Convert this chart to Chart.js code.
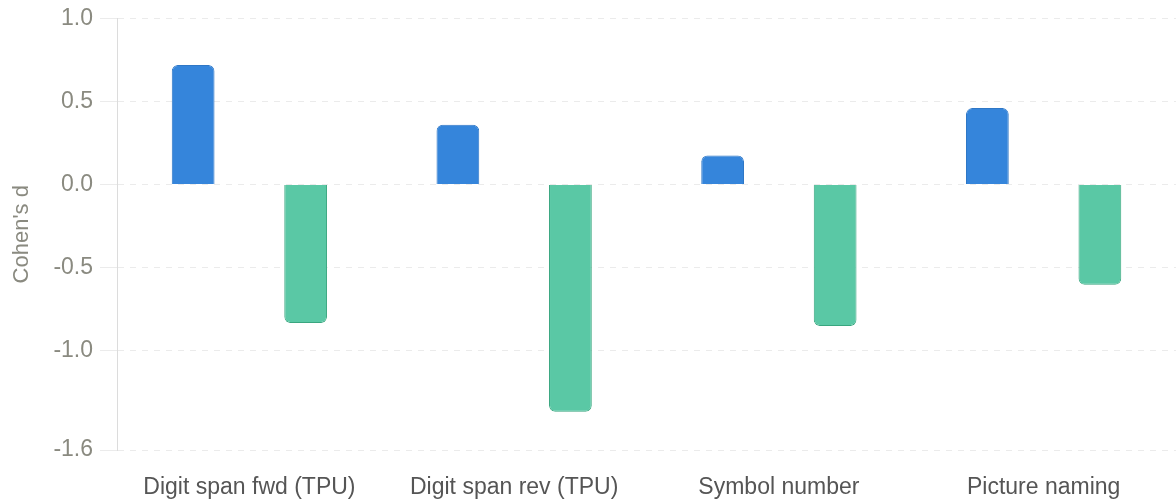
<!DOCTYPE html>
<html>
<head>
<meta charset="utf-8">
<script src="https://cdn.jsdelivr.net/npm/chart.js@4"></script>
<style>
  html, body { margin: 0; padding: 0; background: #fff; }
  #wrap { width: 1176px; height: 504px; }
</style>
</head>
<body>
<div id="wrap"><canvas id="effect_chart"></canvas></div>
<script>
const categories = ['Digit span fwd (TPU)', 'Digit span rev (TPU)', 'Symbol number', 'Picture naming'];
const groupA = [0.72, 0.36, 0.175, 0.46];
const groupB = [-0.835, -1.37, -0.853, -0.605];
const yTicks = [-1.6, -1.0, -0.5, 0.0, 0.5, 1.0];

const fontFamily = "'Helvetica Neue', Helvetica, 'Liberation Sans', Arial, sans-serif";
const effect_chart = document.getElementById('effect_chart');

new Chart(effect_chart, {
  type: 'bar',
  data: {
    labels: categories,
    datasets: [
      {
        label: 'Group A',
        data: groupA,
        backgroundColor: '#3585db',
        borderColor: '#2f77c6',
        borderWidth: 1,
        borderRadius: 6
      },
      {
        label: 'Group B',
        data: groupB,
        backgroundColor: '#5ac8a5',
        borderColor: '#39a67f',
        borderWidth: 1,
        borderRadius: 6
      }
    ]
  },
  options: {
    responsive: true,
    maintainAspectRatio: false,
    animation: false,
    layout: { padding: { top: 3, right: 0, bottom: 2, left: 9 } },
    datasets: {
      bar: { categoryPercentage: 0.85, barPercentage: 0.38 }
    },
    plugins: {
      legend: { display: false },
      tooltip: { enabled: false }
    },
    scales: {
      x: {
        grid: { display: false, drawTicks: false },
        border: { display: false },
        ticks: {
          color: '#555',
          padding: 24,
          font: { family: fontFamily, size: 23 }
        },
        // keep the label band as tight as the original
        afterFit: axis => { axis.height = 52; }
      },
      y: {
        min: -1.6,
        max: 1.0,
        afterBuildTicks: axis => {
          axis.ticks = yTicks.map(v => ({ value: v }));
        },
        grid: {
          color: '#ebebeb',
          tickLength: 17,
          lineWidth: 1
        },
        border: { display: true, color: '#dcdcdc', dash: [6, 6] },
        ticks: {
          color: '#8a8a80',
          padding: 7,
          font: { family: fontFamily, size: 23, lineHeight: 1 },
          callback: v => Number(v).toFixed(1)
        },
        title: {
          display: true,
          text: "Cohen's d",
          color: '#8a8a80',
          padding: { top: 0, bottom: 11 },
          font: { family: fontFamily, size: 22 }
        }
      }
    }
  }
});
</script>
</body>
</html>
